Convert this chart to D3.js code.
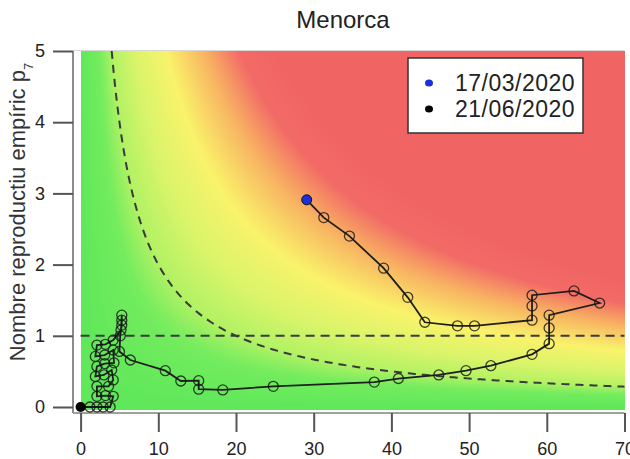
<!DOCTYPE html>
<html>
<head>
<meta charset="utf-8">
<script src="https://cdn.jsdelivr.net/npm/d3@7"></script>
<style>
body{margin:0;background:#fff;}
svg{display:block;font-family:"Liberation Sans",Arial,sans-serif;}
</style>
</head>
<body>
<svg id="chart" width="630" height="459"></svg>
<script>
// trajectory: attack rate 14 days (x) vs empirical reproduction number p7 (y)
var trajX = [29.1, 31.3, 34.6, 39.0, 42.1, 44.3, 48.5, 50.7, 58.1, 58.1, 58.1, 63.5, 66.8, 60.3, 60.3, 60.3, 58.1, 52.8, 49.6, 46.1, 40.9, 37.8, 24.8, 18.3, 15.2, 15.2, 12.9, 10.9, 6.4,
	5.0, 5.1, 5.3, 5.3, 5.3, 5.2, 4.2, 3.2, 2.1, 1.9, 3.1, 4.2, 4.3, 3.1, 2.1, 1.9, 3.0, 4.0, 4.2, 3.6, 2.1, 2.1, 3.2, 4.2, 3.8, 2.9, 2.1, 1.2, 0.0];
var trajY = [2.91, 2.66, 2.40, 1.95, 1.54, 1.19, 1.14, 1.14, 1.22, 1.42, 1.57, 1.63, 1.46, 1.29, 1.11, 0.89, 0.74, 0.58, 0.51, 0.45, 0.40, 0.35, 0.29, 0.24, 0.25, 0.37, 0.365, 0.51, 0.66,
	0.78, 1.00, 1.15, 1.22, 1.29, 1.08, 0.94, 0.88, 0.87, 0.71, 0.73, 0.80, 0.62, 0.61, 0.57, 0.43, 0.45, 0.52, 0.38, 0.29, 0.29, 0.15, 0.16, 0.15, 0.0, 0.0, 0.0, 0.0, 0.0];
var xTicks = [0, 10, 20, 30, 40, 50, 60, 70];
var yTicks = [0, 1, 2, 3, 4, 5];
var legendDates = ["17/03/2020", "21/06/2020"];
var legendColors = ["#1d2fd6", "#000"];
// risk background (x*y)
var riskLevels = [0, 12, 21, 35, 55, 80, 102, 130];
var riskColors = ["#5fe85a", "#74ec5e", "#b4f264", "#daf46a", "#f9f36a", "#f8b262", "#f26a66", "#f06464"];
var epgLine = 20;
var p7Line = 1;

var svg = d3.select("#chart");

var x = d3.scaleLinear().domain([0, 70]).range([80.6, 624.5]);
var y = d3.scaleLinear().domain([0, 5]).range([407, 51]);

// background raster
var riskColor = d3.scaleLinear().domain(riskLevels).range(riskColors).clamp(true);
var bx0 = Math.round(x(0)), bx1 = Math.round(x(70)), by0 = Math.round(y(5)), by1 = Math.round(y(0)) + 3;
var cw = bx1 - bx0, ch = by1 - by0;
var canvas = document.createElement("canvas");
canvas.width = cw; canvas.height = ch;
var ctx = canvas.getContext("2d");
var img = ctx.createImageData(cw, ch);
for (var j = 0; j < ch; j++) {
	var vy = Math.max(0, y.invert(by0 + j + 0.5));
	for (var i = 0; i < cw; i++) {
		var vx = x.invert(bx0 + i + 0.5);
		var c = d3.rgb(riskColor(vx * vy));
		var k = (j * cw + i) * 4;
		img.data[k] = c.r; img.data[k + 1] = c.g; img.data[k + 2] = c.b; img.data[k + 3] = 255;
	}
}
ctx.putImageData(img, 0, 0);
svg.append("image")
	.attr("x", bx0).attr("y", by0)
	.attr("width", cw).attr("height", ch)
	.attr("href", canvas.toDataURL());

// frame
var axLeft = 73, axBottom = 413;
svg.append("line").attr("x1", axLeft).attr("x2", x(70)).attr("y1", y(5) - 0.5).attr("y2", y(5) - 0.5)
	.attr("stroke", "#d8d8d8").attr("stroke-width", 1);
svg.append("line").attr("x1", axLeft).attr("x2", axLeft).attr("y1", y(5)).attr("y2", axBottom)
	.attr("stroke", "#8c8c8c").attr("stroke-width", 2);
svg.append("line").attr("x1", axLeft).attr("x2", x(70)).attr("y1", axBottom).attr("y2", axBottom)
	.attr("stroke", "#a0a0a0").attr("stroke-width", 2);

// axes
var gy = svg.append("g").attr("transform", "translate(" + axLeft + ",0)")
	.call(d3.axisLeft(y).tickValues(yTicks).tickSize(20).tickPadding(8).tickFormat(d3.format("d")));
var gx = svg.append("g").attr("transform", "translate(0," + axBottom + ")")
	.call(d3.axisBottom(x).tickValues(xTicks).tickSize(19).tickPadding(10).tickFormat(d3.format("d")));
[gx, gy].forEach(function(g) {
	g.select(".domain").remove();
	g.selectAll(".tick line").attr("stroke", "#555").attr("stroke-width", 2);
	g.selectAll(".tick text").attr("fill", "#222").style("font-size", "18px").style("font-family", "'Liberation Sans',Arial,sans-serif");
});

// dashed reference lines
svg.append("line")
	.attr("x1", x(0)).attr("x2", x(70))
	.attr("y1", y(p7Line)).attr("y2", y(p7Line))
	.attr("stroke", "#3a3a3a").attr("stroke-width", 2).attr("stroke-dasharray", "9,6");
var curveX = d3.range(epgLine / 5, 70.01, 0.25);
svg.append("path")
	.datum(curveX)
	.attr("d", d3.line().x(function(d) { return x(d); }).y(function(d) { return y(epgLine / d); }))
	.attr("fill", "none").attr("stroke", "#3a3a3a").attr("stroke-width", 2).attr("stroke-dasharray", "8,6");

// trajectory
var pts = trajX.map(function(d, i) { return [d, trajY[i]]; });
svg.append("path")
	.datum(pts)
	.attr("d", d3.line().x(function(d) { return x(d[0]); }).y(function(d) { return y(d[1]); }))
	.attr("fill", "none").attr("stroke", "#1e1e1e").attr("stroke-width", 1.8);
svg.append("g").selectAll("circle")
	.data(pts.slice(1, pts.length - 1))
	.enter().append("circle")
	.attr("cx", function(d) { return x(d[0]); })
	.attr("cy", function(d) { return y(d[1]); })
	.attr("r", 5)
	.attr("fill", "none")
	.attr("stroke", "rgba(20,20,20,0.8)").attr("stroke-width", 1.3);
svg.append("circle").attr("cx", x(pts[0][0])).attr("cy", y(pts[0][1])).attr("r", 5)
	.attr("fill", legendColors[0]).attr("stroke", "#111").attr("stroke-width", 1);
svg.append("circle").attr("cx", x(pts[pts.length - 1][0])).attr("cy", y(pts[pts.length - 1][1])).attr("r", 5)
	.attr("fill", legendColors[1]);

// legend
var lg = svg.append("g");
lg.append("rect").attr("x", 408).attr("y", 58).attr("width", 175).attr("height", 75)
	.attr("fill", "#fff").attr("stroke", "#333").attr("stroke-width", 1.5);
legendDates.forEach(function(t, i) {
	lg.append("ellipse").attr("cx", 429).attr("cy", 83 + i * 26).attr("rx", 4).attr("ry", 3.5).attr("fill", legendColors[i]);
	lg.append("text").attr("x", 455).attr("y", 91 + i * 26)
		.attr("fill", "#222").style("font-size", "23px").style("letter-spacing", "0.5px").text(t);
});

// titles
svg.append("text").attr("x", 343).attr("y", 28).attr("text-anchor", "middle")
	.attr("fill", "#222").style("font-size", "24px").text("Menorca");
var yt = svg.append("text").attr("transform", "translate(25,212) rotate(-90)").attr("text-anchor", "middle")
	.attr("fill", "#333").style("font-size", "22px");
yt.append("tspan").text("Nombre reproductiu empíric p");
yt.append("tspan").attr("baseline-shift", "sub").style("font-size", "13px").text("7");
</script>
</body>
</html>
